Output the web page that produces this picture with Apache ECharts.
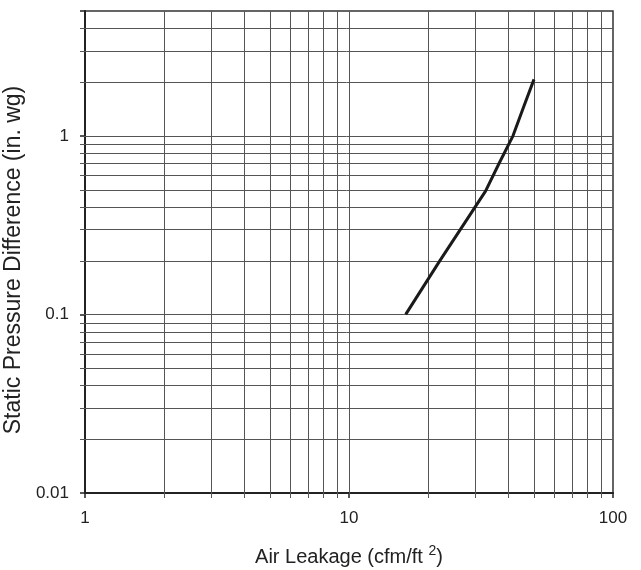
<!DOCTYPE html>
<html lang="en">

<head>
    <meta charset="UTF-8">
    <style>
    html,
    body {
        height: 100%;
        margin: 0;
    }
  </style>
</head>

<body>
<div id="chart" style="width:641px;height:570px;"></div>
<script src="https://cdn.jsdelivr.net/npm/echarts@6/dist/echarts.min.js"></script>
<script>
    // curve
    var leakage = [16.4, 22.1, 32.9, 37, 41.8, 46, 50.2];
    var pressure = [0.1, 0.2, 0.49, 0.7, 1.0, 1.47, 2.07];

    // grid line positions (log paper)
    var xGridVals = [2, 3, 4, 5, 6, 7, 8, 9, 10, 20, 30, 40, 50, 60, 70, 80, 90];
    var yGridVals = [0.02, 0.03, 0.04, 0.05, 0.06, 0.07, 0.08, 0.09, 0.1,
                     0.2, 0.3, 0.4, 0.5, 0.6, 0.7, 0.8, 0.9, 1, 2, 3, 4];

    var xMin = 1, xMax = 100;
    var yMin = 0.01, yMax = 5;

    var font = '"Liberation Sans", Arial, sans-serif';
    var gridColor = '#555';

    // only label the decades
    function decadeLabel(v) {
        var l = Math.log10(v);
        if (Math.abs(l - Math.round(l)) > 1e-6) return '';
        return String(parseFloat(v.toPrecision(6)));
    }

    var myChart = echarts.init(document.getElementById('chart'));
    myChart.setOption({
        animation: false,
        grid: {
            left: 85,
            right: 28,
            top: 11,
            bottom: 77,
            containLabel: false,
            outerBoundsMode: 'none',
            show: true,
            borderColor: '#333',
            borderWidth: 1.5
        },
        xAxis: {
            type: 'log',
            logBase: 10,
            min: xMin,
            max: xMax,
            name: 'Air Leakage (cfm/ft {sup|2})',
            nameLocation: 'middle',
            nameGap: 51,
            nameTextStyle: {
                fontFamily: font,
                fontSize: 20,
                color: '#222',
                rich: {
                    sup: {fontFamily: font, fontSize: 14, color: '#222', verticalAlign: 'top', padding: [0, 0, 12, 0]}
                }
            },
            axisLine: {lineStyle: {color: '#222', width: 2}},
            axisTick: {length: 5, lineStyle: {color: '#222', width: 1.5}},
            axisLabel: {
                margin: 17,
                fontFamily: font,
                fontSize: 17,
                color: '#222',
                formatter: decadeLabel
            },
            splitLine: {show: false}
        },
        yAxis: {
            type: 'log',
            logBase: 10,
            min: yMin,
            max: yMax,
            name: 'Static Pressure Difference (in. wg)',
            nameLocation: 'middle',
            nameGap: 54,
            nameTextStyle: {
                fontFamily: font,
                fontSize: 23,
                color: '#222',
                padding: [0, 16, 0, 0]
            },
            axisLine: {lineStyle: {color: '#222', width: 2}},
            axisTick: {length: 5, lineStyle: {color: '#222', width: 1.5}},
            axisLabel: {
                margin: 16,
                fontFamily: font,
                fontSize: 17,
                color: '#222',
                formatter: decadeLabel
            },
            splitLine: {show: false}
        },
        series: [
            {
                // vertical grid lines plus outward ticks
                type: 'custom',
                silent: true,
                data: xGridVals.map(function (v) { return [v, yMin]; }),
                renderItem: function (params, api) {
                    var v = api.value(0);
                    var top = api.coord([v, yMax]);
                    var bot = api.coord([v, yMin]);
                    var x = Math.round(top[0]) + 0.5;
                    return {
                        type: 'line',
                        shape: {x1: x, y1: top[1], x2: x, y2: bot[1] + 5},
                        style: {stroke: gridColor, lineWidth: 1}
                    };
                },
                z: 1
            },
            {
                // horizontal grid lines plus outward ticks
                type: 'custom',
                silent: true,
                data: yGridVals.map(function (v) { return [xMin, v]; }),
                renderItem: function (params, api) {
                    var v = api.value(1);
                    var left = api.coord([xMin, v]);
                    var right = api.coord([xMax, v]);
                    var y = Math.round(left[1]) + 0.5;
                    return {
                        type: 'line',
                        shape: {x1: left[0] - 5, y1: y, x2: right[0], y2: y},
                        style: {stroke: gridColor, lineWidth: 1}
                    };
                },
                z: 1
            },
            {
                type: 'line',
                data: leakage.map(function (x, i) { return [x, pressure[i]]; }),
                symbol: 'none',
                lineStyle: {color: '#1a1a1a', width: 3},
                z: 5
            }
        ]
    });
</script>
</body>
</html>
